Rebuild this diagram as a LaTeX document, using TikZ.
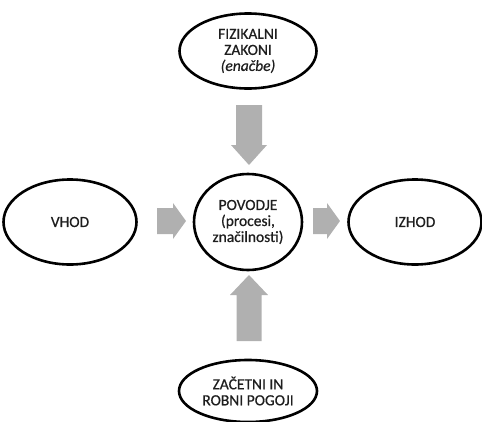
\documentclass[tikz,border=0pt]{standalone}
\usepackage{fontspec}
\setmainfont{Carlito}[FakeBold=0.6]
\usetikzlibrary{shapes.geometric}
\definecolor{arrowgray}{RGB}{176,176,176}
\definecolor{textdark}{RGB}{30,30,30}
\tikzset{
  oval/.style={ellipse, draw=black, line width=2.6pt, inner sep=0pt, align=center,
    text=textdark, font=\fontsize{15.5}{16}\selectfont},
  blockarrow/.style={fill=arrowgray, draw=none}
}
\begin{document}
\begin{tikzpicture}[x=1pt,y=-1pt]
\useasboundingbox (0,0) rectangle (482,421);
\node[oval, minimum width=137pt, minimum height=75pt] (fiz) at (248,51)
  {FIZIKALNI\\ZAKONI\\\textit{(enačbe)}};
\node[oval, minimum width=133pt, minimum height=85pt] (vhod) at (70,222) {VHOD};
\node[oval, minimum width=108pt, minimum height=96pt] (pov) at (248,222)
  {POVODJE\\(procesi,\\značilnosti)};
\node[oval, minimum width=133pt, minimum height=85pt] (izhod) at (415,222) {IZHOD};
\node[oval, minimum width=138pt, minimum height=62pt] (zac) at (248,391)
  {ZAČETNI IN\\ROBNI POGOJI};
% block arrows
\fill[blockarrow] (157,208) -- (173,208) -- (173,203) -- (186,221) -- (173,239) -- (173,234) -- (157,234) -- cycle;
\fill[blockarrow] (313,208) -- (327,208) -- (327,203) -- (340,221) -- (327,239) -- (327,234) -- (313,234) -- cycle;
\fill[blockarrow] (236,105) -- (262,105) -- (262,145) -- (267,145) -- (249,165) -- (231,145) -- (236,145) -- cycle;
\fill[blockarrow] (236.5,341) -- (261.5,341) -- (261.5,295) -- (268,295) -- (249,275) -- (230,295) -- (236.5,295) -- cycle;
\end{tikzpicture}
\end{document}
